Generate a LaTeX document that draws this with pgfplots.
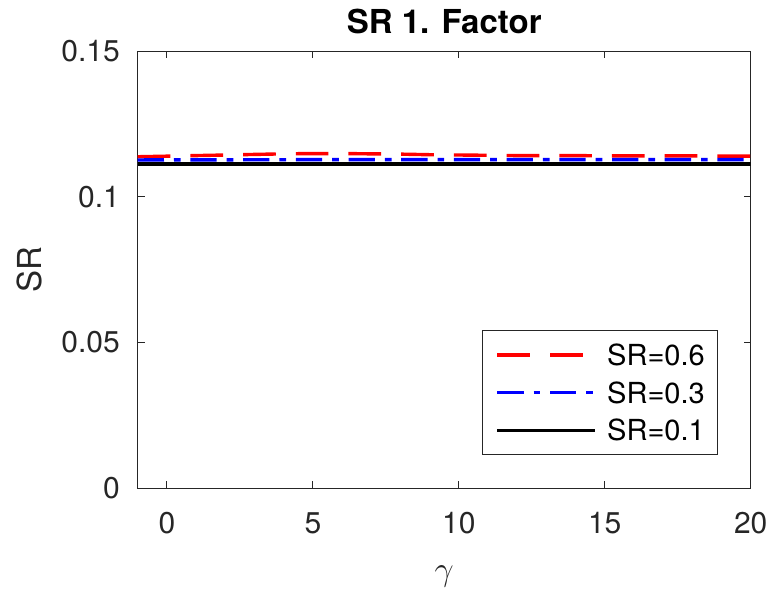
\documentclass[border=0pt]{standalone}
\usepackage{graphicx}
\usepackage{pgfplots}
\pgfplotsset{compat=1.18}
\usepackage{fontspec}
\setmainfont{TeX Gyre Heros}
\definecolor{axgray}{rgb}{0.15,0.15,0.15}
\begin{document}
\begin{tikzpicture}
\begin{axis}[
  scale only axis,
  width=613pt, height=437pt,
  xmin=-1, xmax=20, ymin=0, ymax=0.15,
  xtick={0,5,10,15,20},
  ytick={0,0.05,0.1,0.15},
  scaled y ticks=false,
  yticklabel style={/pgf/number format/fixed, /pgf/number format/precision=2},
  /pgf/number format/assume math mode=true,
  tick label style={font=\fontsize{30}{36}\selectfont, text=axgray},
  xticklabel style={inner sep=0pt, anchor=north, yshift=-24pt},
  yticklabel style={inner sep=0pt, anchor=east, xshift=-17.7pt},
  tick align=inside,
  major tick length=7pt,
  axis line style={axgray, line width=1pt},
  every tick/.style={axgray, line width=1pt},
  title={\bfseries SR 1. Factor},
  title style={at={(axis description cs:0.5,1.053)}, anchor=center, inner sep=0pt, font=\fontsize{33}{40}\selectfont},
  xlabel={\scalebox{1.64}{$\gamma$}},
  xlabel style={at={(axis description cs:0.5,-0.2023)}, anchor=center, inner sep=0pt, font=\fontsize{20.74}{25}\selectfont, text=axgray},
  ylabel={SR},
  ylabel style={at={(axis description cs:-0.1773,0.5)}, anchor=center, rotate=0, inner sep=0pt, font=\fontsize{33}{40}\selectfont, text=axgray},
  legend cell align=left,
  legend image code/.code={\draw[#1] (0pt,0pt) -- (98pt,0pt);},
  legend style={
    at={(axis description cs:0.9471,0.0746)}, anchor=south east,
    draw=axgray, line width=1pt,
    inner xsep=13pt, inner ysep=14pt,
    font=\fontsize{29}{34}\selectfont,
    nodes={inner sep=0pt, text height=21pt, text depth=0pt},
    row sep=16.7pt,
    /tikz/every odd column/.append style={column sep=10pt},
  },
]
\addplot[red, line width=3.4pt, dash pattern=on 32.7pt off 20pt] coordinates {
(-1,0.1137) (0,0.1139) (1,0.1141) (2,0.1143) (3,0.1145) (4,0.1147) (5,0.1148) (6,0.1148)
(7,0.1147) (8,0.1146) (9,0.1144) (10,0.1143) (11,0.1142) (12,0.1141) (13,0.1141)
(14,0.1141) (15,0.1140) (16,0.1140) (17,0.1140) (18,0.1140) (19,0.1139) (20,0.1139)
};
\addlegendentry{SR=0.6}
\addplot[blue, line width=3.4pt, dash pattern=on 26.3pt off 10pt on 6.7pt off 9.7pt] coordinates {
(-1,0.1126) (5,0.1127) (10,0.1127) (15,0.1127) (20,0.1127)
};
\addlegendentry{SR=0.3}
\addplot[black, line width=3.8pt] coordinates {
(-1,0.1113) (5,0.1113) (10,0.1113) (15,0.1113) (20,0.1113)
};
\addlegendentry{SR=0.1}
\coordinate (bl) at (rel axis cs:0,0);
\coordinate (tr) at (rel axis cs:1,1);
\end{axis}
\pgfresetboundingbox
\path ([shift={(-137.7pt,-104.7pt)}]bl) rectangle ([shift={(20.3pt,51pt)}]tr);
\end{tikzpicture}
\end{document}
